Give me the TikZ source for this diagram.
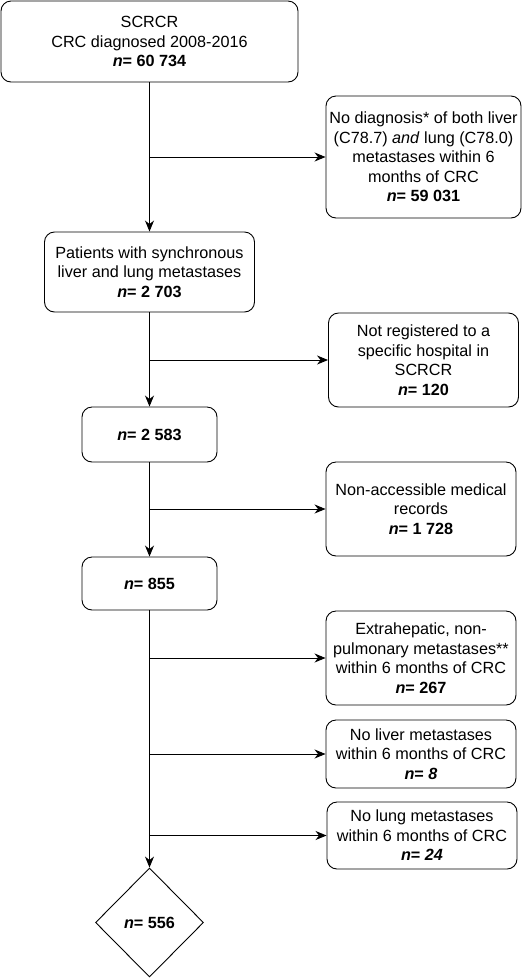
\documentclass[tikz,border=0pt]{standalone}
\usepackage{fontspec}
\setmainfont{Liberation Sans}
\usetikzlibrary{arrows.meta,shapes.geometric}

\tikzset{
    stepbox/.style={draw, rounded corners=10pt, align=center, inner sep=0pt, line width=0.9pt},
    flow/.style={line width=0.9pt, -{Stealth[length=11pt, width=9pt, inset=3.5pt]}},
}
\newcommand{\nval}[1]{\textbf{\textit{n}= #1}}

\begin{document}
\begin{tikzpicture}[x=1pt, y=-1pt, font=\fontsize{16.2}{19.5}\selectfont]
    % Page frame
    \useasboundingbox (0,0) rectangle (522,978);

    % Main column
    \node[stepbox, minimum width=297pt, minimum height=81pt] (scrcr) at (149.5, 41.5)
        {SCRCR\\CRC diagnosed 2008-2016\\\nval{60 734}};
    \node[stepbox, minimum width=210pt, minimum height=80pt] (sync) at (149.5, 272)
        {Patients with synchronous\\liver and lung metastases\\\nval{2 703}};
    \node[stepbox, minimum width=135pt, minimum height=55pt] (hosp) at (149.5, 434.5)
        {\nval{2 583}};
    \node[stepbox, minimum width=135pt, minimum height=53pt] (recs) at (149.5, 583.5)
        {\nval{855}};
    \node[draw, diamond, line width=0.9pt, inner sep=0pt, minimum width=108pt, minimum height=109pt] (final) at (149.5, 922.5)
        {\nval{556}};

    % Excluded boxes
    \node[stepbox, minimum width=195pt, minimum height=122pt] (ex1) at (423.5, 157)
        {No diagnosis* of both liver\\(C78.7) \textit{and} lung (C78.0)\\metastases within 6\\months of CRC\\\nval{59 031}};
    \node[stepbox, minimum width=190pt, minimum height=94pt] (ex2) at (423.5, 360)
        {Not registered to a\\specific hospital in\\SCRCR\\\nval{120}};
    \node[stepbox, minimum width=190pt, minimum height=94pt] (ex3) at (421, 509)
        {Non-accessible medical\\records\\\nval{1 728}};
    \node[stepbox, minimum width=190pt, minimum height=94pt] (ex4) at (421, 658)
        {Extrahepatic, non-\\pulmonary metastases**\\within 6 months of CRC\\\nval{267}};
    \node[stepbox, minimum width=190pt, minimum height=68pt] (ex5) at (421, 754)
        {No liver metastases\\within 6 months of CRC\\\textbf{\textit{n}= \textit{8}}};
    \node[stepbox, minimum width=190pt, minimum height=67pt] (ex6) at (422, 835.5)
        {No lung metastases\\within 6 months of CRC\\\textbf{\textit{n}= \textit{24}}};

    % Vertical flow
    \draw[flow] (scrcr) -- (sync);
    \draw[flow] (sync) -- (hosp);
    \draw[flow] (hosp) -- (recs);
    \draw[flow] (recs.south) -- (final.north);

    % Branches off the flow
    \coordinate (j1) at (scrcr.south |- ex1.west);
    \coordinate (j2) at (sync.south |- ex2.west);
    \coordinate (j3) at (hosp.south |- ex3.west);
    \coordinate (j4) at (recs.south |- ex4.west);
    \coordinate (j5) at (recs.south |- ex5.west);
    \coordinate (j6) at (recs.south |- ex6.west);
    \draw[flow] (j1) -- (ex1.west);
    \draw[flow] (j2) -- (ex2.west);
    \draw[flow] (j3) -- (ex3.west);
    \draw[flow] (j4) -- (ex4.west);
    \draw[flow] (j5) -- (ex5.west);
    \draw[flow] (j6) -- (ex6.west);
\end{tikzpicture}
\end{document}
